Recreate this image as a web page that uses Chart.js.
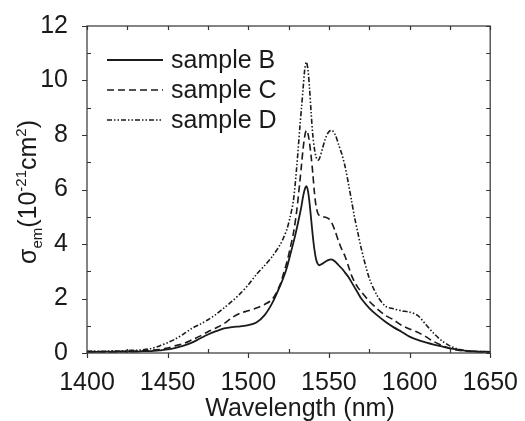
<!DOCTYPE html>
<html>
<head>
<meta charset="utf-8">
<script src="https://cdn.jsdelivr.net/npm/chart.js@4.4.1/dist/chart.umd.min.js"></script>
<style>
  html, body { margin: 0; padding: 0; background: #fff; }
  #wrap { width: 525px; height: 421px; }
</style>
</head>
<body>
<div id="wrap"><canvas id="chart" width="525" height="421"></canvas></div>
<script>
// Wavelength (nm), shared by all three curves
const wavelength = [
  1400, 1405, 1410, 1415, 1420, 1425, 1430, 1435, 1440, 1445, 1450, 1455, 1460,
  1465, 1470, 1475, 1480, 1485, 1490, 1495, 1500, 1505, 1510, 1515, 1520,
  1522, 1524, 1526, 1528, 1530, 1532, 1533, 1534, 1535, 1536, 1537, 1538, 1539,
  1540, 1541, 1542, 1543, 1544, 1546, 1548, 1550, 1552, 1554, 1556, 1558, 1560,
  1562, 1564, 1566, 1568, 1570,
  1575, 1580, 1585, 1590, 1595, 1600, 1605, 1610, 1615, 1620, 1625, 1630,
  1635, 1640, 1645, 1650
];

// sigma_em (10^-21 cm^2)
const sampleB = [
  0.05, 0.04, 0.06, 0.04, 0.05, 0.06, 0.05, 0.07, 0.07, 0.10, 0.13, 0.19, 0.27,
  0.38, 0.53, 0.68, 0.80, 0.90, 0.95, 0.98, 1.02, 1.12, 1.38, 1.85, 2.50,
  2.80, 3.15, 3.60, 4.05, 4.55, 5.10, 5.40, 5.75, 6.00, 6.12, 5.95, 5.50, 4.90,
  4.30, 3.80, 3.45, 3.28, 3.22, 3.28, 3.36, 3.42, 3.43, 3.35, 3.22, 3.10, 2.95,
  2.80, 2.60, 2.40, 2.20, 2.00,
  1.65, 1.38, 1.15, 0.95, 0.78, 0.60, 0.48, 0.39, 0.31, 0.24, 0.17, 0.12,
  0.08, 0.06, 0.05, 0.04
];
const sampleC = [
  0.04, 0.05, 0.04, 0.05, 0.06, 0.05, 0.07, 0.08, 0.10, 0.13, 0.18, 0.27, 0.35,
  0.48, 0.62, 0.78, 0.92, 1.08, 1.30, 1.46, 1.55, 1.65, 1.78, 1.98, 2.55,
  2.95, 3.35, 3.85, 4.40, 5.20, 6.30, 6.90, 7.50, 7.95, 8.18, 8.05, 7.70, 7.20,
  6.60, 5.90, 5.40, 5.15, 5.05, 5.00, 4.98, 4.92, 4.75, 4.45, 4.10, 3.80, 3.55,
  3.20, 2.85, 2.60, 2.40, 2.25,
  1.90, 1.62, 1.38, 1.22, 1.02, 0.88, 0.76, 0.60, 0.42, 0.28, 0.17, 0.10,
  0.07, 0.05, 0.04, 0.04
];
const sampleD = [
  0.06, 0.07, 0.05, 0.08, 0.07, 0.09, 0.10, 0.12, 0.17, 0.26, 0.38, 0.52, 0.70,
  0.90, 1.05, 1.22, 1.42, 1.66, 1.90, 2.18, 2.50, 2.88, 3.20, 3.55, 4.00,
  4.25, 4.55, 5.00, 5.60, 6.80, 8.30, 9.00, 9.70, 10.40, 10.68, 10.40, 9.70, 8.80,
  8.00, 7.50, 7.20, 7.08, 7.12, 7.50, 7.90, 8.12, 8.17, 8.00, 7.65, 7.30, 6.85,
  6.25, 5.60, 4.95, 4.40, 3.85,
  2.75, 2.10, 1.72, 1.62, 1.55, 1.50, 1.38, 1.05, 0.72, 0.45, 0.26, 0.14,
  0.09, 0.06, 0.05, 0.04
];

const seriesNames = ['sample B', 'sample C', 'sample D'];
const xTicks = [1400, 1450, 1500, 1550, 1600, 1650];
const yTicks = [0, 2, 4, 6, 8, 10, 12];

const FONT = "'Liberation Sans', Arial, Helvetica, sans-serif";
const INK = '#1a1a1a';

const toPoints = (ys) => wavelength.map((x, i) => ({ x: x, y: ys[i] }));

// frame, ticks (major out / minor in), legend and axis titles
const decor = {
  id: 'decor',
  afterDraw(chart) {
    const { ctx, chartArea: a } = chart;
    const xs = chart.scales.x, ys = chart.scales.y;
    ctx.save();
    ctx.strokeStyle = '#333';
    ctx.lineWidth = 1.2;
    ctx.strokeRect(a.left, a.top, a.right - a.left, a.bottom - a.top);

    ctx.beginPath();
    for (let v = 1400; v <= 1650; v += 25) {
      const px = Math.round(xs.getPixelForValue(v)) + 0.5;
      if (v % 50 === 0) { ctx.moveTo(px, a.bottom); ctx.lineTo(px, a.bottom + 5); }
      else { ctx.moveTo(px, a.bottom); ctx.lineTo(px, a.bottom - 4); }
      ctx.moveTo(px, a.top); ctx.lineTo(px, a.top + 4);
    }
    for (let v = 0; v <= 12; v += 1) {
      const py = Math.round(ys.getPixelForValue(v)) + 0.5;
      if (v % 2 === 0) { ctx.moveTo(a.left - 5, py); ctx.lineTo(a.left, py); }
      else { ctx.moveTo(a.left, py); ctx.lineTo(a.left + 4, py); }
      ctx.moveTo(a.right, py); ctx.lineTo(a.right - 4, py);
    }
    ctx.stroke();

    // legend
    ctx.font = '25px ' + FONT;
    ctx.textBaseline = 'middle';
    ctx.fillStyle = INK;
    chart.data.datasets.forEach((ds, i) => {
      const y = a.top + 34 + i * 30;
      ctx.beginPath();
      ctx.setLineDash(ds.borderDash || []);
      ctx.lineWidth = ds.borderWidth;
      ctx.strokeStyle = INK;
      ctx.moveTo(a.left + 20, y);
      ctx.lineTo(a.left + 76, y);
      ctx.stroke();
      ctx.setLineDash([]);
      ctx.fillText(ds.label, a.left + 84, y + 1);
    });

    // x title
    ctx.textAlign = 'center';
    ctx.textBaseline = 'alphabetic';
    ctx.font = '25px ' + FONT;
    ctx.fillText('Wavelength (nm)', 300, 416);

    // y title with sub/superscripts
    const parts = [
      ['\u03c3', 25, 0], ['em', 15, 6], ['(10', 25, 0], ['-21', 15, -10],
      ['cm', 25, 0], ['2', 15, -10], [')', 25, 0]
    ];
    let total = 0;
    parts.forEach(p => { ctx.font = p[1] + 'px ' + FONT; p.push(ctx.measureText(p[0]).width); total += p[3]; });
    ctx.translate(36, 192);
    ctx.rotate(-Math.PI / 2);
    ctx.textAlign = 'left';
    let cx = -total / 2;
    parts.forEach(p => {
      ctx.font = p[1] + 'px ' + FONT;
      ctx.fillText(p[0], cx, p[2]);
      cx += p[3];
    });
    ctx.restore();
  }
};

const line = (label, ys, dash, width) => ({
  label: label,
  data: toPoints(ys),
  borderColor: INK,
  borderWidth: width,
  borderDash: dash,
  pointRadius: 0,
  tension: 0.3,
  fill: false
});

new Chart(document.getElementById('chart'), {
  type: 'line',
  data: {
    datasets: [
      line(seriesNames[0], sampleB, [], 1.8),
      line(seriesNames[1], sampleC, [7, 4], 1.6),
      line(seriesNames[2], sampleD, [5, 2, 1.5, 2, 1.5, 2], 1.6)
    ]
  },
  options: {
    responsive: false,
    animation: false,
    devicePixelRatio: 1,
    layout: { padding: { left: 0, top: 23, right: 31, bottom: 0 } },
    plugins: { legend: { display: false }, tooltip: { enabled: false } },
    scales: {
      x: {
        type: 'linear',
        min: 1400, max: 1650,
        afterBuildTicks: (s) => { s.ticks = xTicks.map(v => ({ value: v })); },
        afterFit: (s) => { s.height = 68; },
        grid: { display: false },
        border: { display: false },
        ticks: { color: INK, font: { family: FONT, size: 25 }, padding: 7, maxRotation: 0, autoSkip: false,
                 callback: (v) => String(v) }
      },
      y: {
        min: 0, max: 12,
        afterBuildTicks: (s) => { s.ticks = yTicks.map(v => ({ value: v })); },
        afterFit: (s) => { s.width = 87; },
        grid: { display: false },
        border: { display: false },
        ticks: { color: INK, font: { family: FONT, size: 25 }, padding: 11, callback: (v) => String(v) }
      }
    }
  },
  plugins: [decor]
});
</script>
</body>
</html>
